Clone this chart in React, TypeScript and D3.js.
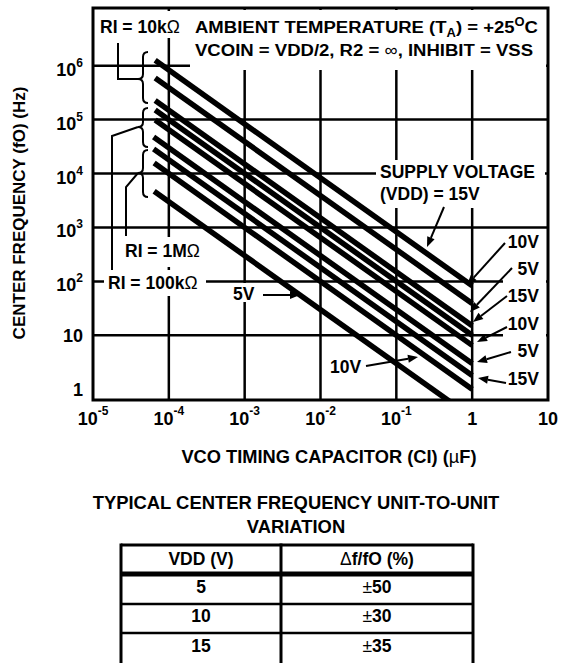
import * as d3 from "d3";

// axis ticks
const xTicks = [1e-5, 1e-4, 1e-3, 1e-2, 1e-1, 1, 10];
const xTickBase = ["10", "10", "10", "10", "10", "1", "10"];
const xTickExp = ["-5", "-4", "-3", "-2", "-1", "", ""];
const yTicks = [1, 10, 1e2, 1e3, 1e4, 1e5, 1e6];
const yTickBase = ["1", "10", "10", "10", "10", "10", "10"];
const yTickExp = ["", "", "2", "3", "4", "5", "6"];
const xGrid = [1e-4, 1e-3, 1e-2, 1e-1, 1];
const yGrid = [10, 1e2, 1e3, 1e4, 1e5, 1e6];

// nine curves, fO = k / CI  (k = fO in Hz at CI = 1 uF)
const curveRi = ["10k", "10k", "10k", "100k", "100k", "100k", "1M", "1M", "1M"];
const curveVdd = [15, 10, 5, 15, 10, 5, 15, 10, 5];
const curveF1uF = [83, 39, 15, 10, 6.5, 3.0, 1.8, 1.0, 0.3];
const curveCStart = [6.6e-5, 6.6e-5, 6.6e-5, 6.6e-5, 6.6e-5, 6.3e-5, 6.3e-5, 6.4e-5, 6.4e-5];
const curveCEnd = 1;

// unit-to-unit table
const tableVdd = ["5", "10", "15"];
const tableVar = ["50", "30", "35"];

const W = 561;
const H = 663;
const FONT = "'Liberation Sans', Arial, Helvetica, sans-serif";

function Arrow({ x1, y1, x2, y2 }: { x1: number; y1: number; x2: number; y2: number }) {
  const a = Math.atan2(y2 - y1, x2 - x1);
  const L = 10, w = 4;
  const bx = x2 - L * Math.cos(a);
  const by = y2 - L * Math.sin(a);
  const pts = [
    [x2, y2],
    [bx + w * Math.sin(a), by - w * Math.cos(a)],
    [bx - w * Math.sin(a), by + w * Math.cos(a)],
  ];
  return (
    <g>
      <line x1={x1} y1={y1} x2={bx} y2={by} stroke="#000" strokeWidth={2} />
      <polygon points={pts.map((p) => p.join(",")).join(" ")} fill="#000" />
    </g>
  );
}

function brace(xr: number, top: number, tip: number, bot: number) {
  const xm = xr - 5, xl = xr - 10;
  return `M${xr},${top} Q${xm},${top} ${xm},${top + 5} L${xm},${tip - 5} Q${xm},${tip} ${xl},${tip} Q${xm},${tip} ${xm},${tip + 5} L${xm},${bot - 5} Q${xm},${bot} ${xr},${bot}`;
}

export default function App() {
  const left = 93, right = 548, top = 8, bottom = 400;
  const x = d3.scaleLog().domain([1e-5, 10]).range([left, right]);
  const y = d3.scaleLog().domain([10 ** -0.2, 10 ** 7.07]).range([bottom, top]);
  const line = d3.line<[number, number]>().x((d) => x(d[0])).y((d) => y(d[1]));

  const curves = curveF1uF.map((k, i) => ({
    ri: curveRi[i],
    vdd: curveVdd[i],
    d: line([
      [curveCStart[i], k / curveCStart[i]],
      [curveCEnd, k / curveCEnd],
    ]) as string,
  }));

  const fs = 17.5;
  const sym = { fontWeight: "normal" as const };

  // table layout
  const tL = 121, tM = 281, tR = 473, tTop = 545;
  const rowLines = [574, 604, 633];
  const rowBase = [593, 622, 652];

  return (
    <svg
      width={W}
      height={H}
      style={{ position: "absolute", left: 0, top: 0, background: "#fff" }}
      fontFamily={FONT}
      fontWeight="bold"
    >
      <defs>
        <clipPath id="plot">
          <rect x={left} y={top} width={right - left} height={bottom - top} />
        </clipPath>
      </defs>

      {/* grid */}
      {xGrid.map((t) => (
        <line key={"gx" + t} x1={x(t)} x2={x(t)} y1={top} y2={bottom} stroke="#000" strokeWidth={2.5} />
      ))}
      {yGrid.map((t) => (
        <line key={"gy" + t} x1={left} x2={right} y1={y(t)} y2={y(t)} stroke="#000" strokeWidth={2.5} />
      ))}

      {/* knock-out boxes behind annotations */}
      <g fill="#fff">
        <rect x={96} y={11} width={92} height={27} />
        <rect x={190} y={10} width={356} height={60} />
        <rect x={376} y={160} width={169} height={48} />
        <rect x={120} y={237} width={86} height={30} />
        <rect x={104} y={270} width={102} height={26} />
        <rect x={228} y={283} width={34} height={19} />
        <rect x={503} y={232} width={43} height={160} />
      </g>

      {/* curves */}
      <g clipPath="url(#plot)">
        {curves.map((c, i) => (
          <path key={i} d={c.d} stroke="#000" strokeWidth={5.5} fill="none" />
        ))}
      </g>

      {/* braces and leaders */}
      <g stroke="#000" strokeWidth={2} fill="none">
        <path d={brace(148, 52, 79, 103)} />
        <path d={brace(148, 108, 127, 147)} />
        <path d={brace(148, 150, 173, 197)} />
        <polyline points="118,43 118,79 138,79" />
        <polyline points="138,127 112,136 112,270" />
        <polyline points="138,173 126,187 126,236" />
      </g>

      {/* frame */}
      <rect x={left} y={top} width={right - left} height={bottom - top} fill="none" stroke="#000" strokeWidth={3} />

      {/* annotations */}
      <g fontSize={fs}>
        <text x={100} y={33}>RI = 10k<tspan {...sym}>Ω</tspan></text>
        <g fontSize={17.2}>
          <text x={195} y={33} textLength={343} lengthAdjust="spacingAndGlyphs">
            AMBIENT TEMPERATURE (T<tspan dy={4} fontSize={12}>A</tspan>
            <tspan dy={-4}>) = +25</tspan>
            <tspan dy={-7} fontSize={12}>O</tspan>
            <tspan dy={7}>C</tspan>
          </text>
          <text x={195} y={56} textLength={338} lengthAdjust="spacingAndGlyphs">
            VCOIN = VDD/2, R2 = <tspan {...sym}>∞</tspan>, INHIBIT = VSS
          </text>
        </g>
        <text x={380} y={178}>SUPPLY VOLTAGE</text>
        <text x={380} y={200}>(VDD) = 15V</text>
        <text x={125} y={257}>RI = 1M<tspan {...sym}>Ω</tspan></text>
        <text x={108} y={289}>RI = 100k<tspan {...sym}>Ω</tspan></text>
        <text x={233} y={300}>5V</text>
        <text x={330} y={373}>10V</text>
        <g textAnchor="end">
          <text x={539} y={248}>10V</text>
          <text x={539} y={275}>5V</text>
          <text x={539} y={302}>15V</text>
          <text x={539} y={330}>10V</text>
          <text x={539} y={357}>5V</text>
          <text x={539} y={385}>15V</text>
        </g>
      </g>
      <Arrow x1={444} y1={207} x2={427} y2={247} />
      <Arrow x1={505} y1={243} x2={467} y2={285} />
      <Arrow x1={512} y1={268} x2={470} y2={312} />
      <Arrow x1={507} y1={296} x2={473} y2={322} />
      <Arrow x1={507} y1={327} x2={477} y2={342} />
      <Arrow x1={511} y1={352} x2={477} y2={362} />
      <Arrow x1={506} y1={383} x2={478} y2={378} />
      <Arrow x1={263} y1={295} x2={300} y2={295} />
      <Arrow x1={366} y1={366} x2={418} y2={357} />

      {/* tick labels */}
      <g fontSize={18}>
        {yTicks.map((t, i) => (
          <text key={"yl" + t} x={83} y={y(t) + (yTickExp[i] ? 10 : 6.5)} textAnchor="end">
            {yTickBase[i]}
            {yTickExp[i] && (
              <tspan dy={-9} fontSize={12}>
                {yTickExp[i]}
              </tspan>
            )}
          </text>
        ))}
        {xTicks.map((t, i) => (
          <text key={"xl" + t} x={x(t)} y={425} textAnchor="middle">
            {xTickBase[i]}
            {xTickExp[i] && (
              <tspan dy={-10} fontSize={12}>
                {xTickExp[i]}
              </tspan>
            )}
          </text>
        ))}
      </g>

      {/* axis titles */}
      <text x={329} y={463} textAnchor="middle" fontSize={18.3}>
        VCO TIMING CAPACITOR (CI) (<tspan {...sym}>µ</tspan>F)
      </text>
      <text transform="translate(25,213) rotate(-90)" textAnchor="middle" fontSize={17}>
        CENTER FREQUENCY (fO) (Hz)
      </text>

      {/* table */}
      <g fontSize={18.4} textAnchor="middle">
        <text x={296} y={509}>TYPICAL CENTER FREQUENCY UNIT-TO-UNIT</text>
        <text x={296} y={533}>VARIATION</text>
      </g>
      <g stroke="#000">
        <line x1={tL} x2={tR} y1={tTop} y2={tTop} strokeWidth={3} />
        {rowLines.map((ry, i) => (
          <line key={"rl" + i} x1={tL} x2={tR} y1={ry} y2={ry} strokeWidth={i === 0 ? 5 : 2.5} />
        ))}
        {[tL, tM, tR].map((cx) => (
          <line key={"cl" + cx} x1={cx} x2={cx} y1={tTop - 1.5} y2={H} strokeWidth={3} />
        ))}
      </g>
      <g fontSize={17.5} textAnchor="middle">
        <text x={(tL + tM) / 2} y={565}>VDD (V)</text>
        <text x={(tM + tR) / 2} y={565}>
          <tspan {...sym}>Δ</tspan>f/fO (%)
        </text>
        {tableVdd.map((v, i) => (
          <g key={"tr" + v}>
            <text x={(tL + tM) / 2} y={rowBase[i]}>{v}</text>
            <text x={(tM + tR) / 2} y={rowBase[i]}>
              <tspan {...sym}>±</tspan>
              {tableVar[i]}
            </text>
          </g>
        ))}
      </g>
    </svg>
  );
}
